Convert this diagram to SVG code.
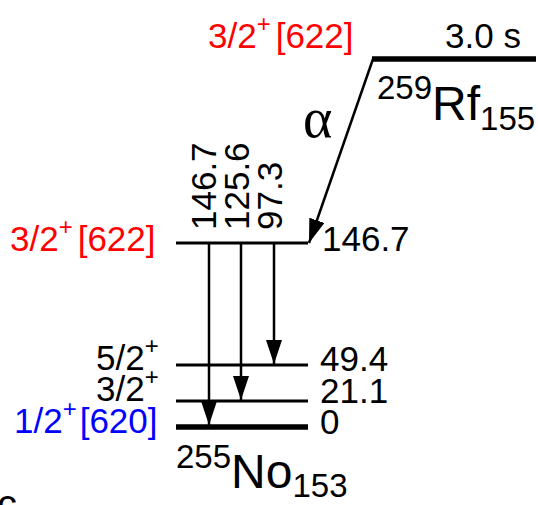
<svg xmlns="http://www.w3.org/2000/svg" width="538" height="505" viewBox="0 0 538 505">
<style>
text{font-family:"Liberation Sans",Arial,sans-serif;font-size:35px;fill:#000}
.red{fill:#ff0000}
.blue{fill:#0000ff}
.sup{font-size:24px}
.big{font-size:48px}
.iso{font-size:33px}
.lvl{stroke:#000;stroke-width:3;fill:none}
.thick{stroke:#000;stroke-width:5.5;fill:none}
.tr{stroke:#000;stroke-width:2.5;fill:none}
</style>
<defs>
<marker id="ah" markerUnits="userSpaceOnUse" markerWidth="24" markerHeight="16" viewBox="0 0 24 16" refX="24" refY="8" orient="auto">
<path d="M0,0 L24,8 L0,16 Z" fill="#000"/>
</marker>
</defs>
<g id="rf-level">
<line class="thick" x1="372" y1="59" x2="536" y2="59"/>
<text class="red" x="208" y="48">3/2<tspan class="sup" dy="-16">+</tspan><tspan dx="5" dy="16">[622]</tspan></text>
<text x="521" y="48" text-anchor="end">3.0 s</text>
<text x="377" y="99"><tspan class="iso">259</tspan><tspan class="big" dy="21">Rf</tspan><tspan class="iso" dy="10">155</tspan></text>
</g>
<g id="level-146">
<line class="lvl" x1="176" y1="243" x2="308" y2="243"/>
<text class="red" x="10" y="251">3/2<tspan class="sup" dy="-16">+</tspan><tspan dx="5" dy="16">[622]</tspan></text>
<text x="322" y="251">146.7</text>
</g>
<g id="level-49">
<line class="lvl" x1="176" y1="365" x2="308" y2="365"/>
<text x="96" y="370">5/2<tspan class="sup" dy="-16">+</tspan></text>
<text x="320" y="371">49.4</text>
</g>
<g id="level-21">
<line class="lvl" x1="176" y1="401" x2="308" y2="401"/>
<text x="96" y="401">3/2<tspan class="sup" dy="-16">+</tspan></text>
<text x="320" y="403">21.1</text>
</g>
<g id="level-0">
<line class="thick" x1="176" y1="427" x2="308" y2="427"/>
<text class="blue" x="14" y="433">1/2<tspan class="sup" dy="-16">+</tspan><tspan dx="3" dy="16">[620]</tspan></text>
<text x="320" y="434">0</text>
<text x="176" y="468"><tspan class="iso">255</tspan><tspan class="big" dy="20">No</tspan><tspan class="iso" dy="9">153</tspan></text>
</g>
<g id="connectors">
<line class="tr" x1="373" y1="59" x2="309" y2="243" marker-end="url(#ah)"/>
<text x="303" y="137" style="font-family:'Liberation Serif','Times New Roman',serif;font-size:56px">α</text>
<line class="tr" x1="209" y1="244" x2="209" y2="425" marker-end="url(#ah)"/>
<line class="tr" x1="241" y1="244" x2="241" y2="400" marker-end="url(#ah)"/>
<line class="tr" x1="274" y1="244" x2="274" y2="364" marker-end="url(#ah)"/>
<text x="216" y="230" transform="rotate(-90 216 230)">146.7</text>
<text x="249" y="230" transform="rotate(-90 249 230)">125.6</text>
<text x="282" y="230" transform="rotate(-90 282 230)">97.3</text>
</g>
<text x="-3" y="518" style="font-size:40px">c</text>
</svg>
